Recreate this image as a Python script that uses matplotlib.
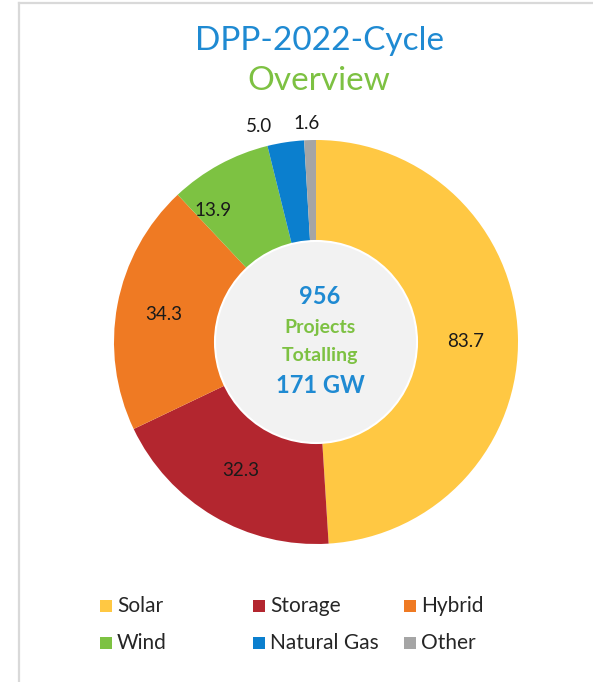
import numpy as np
import matplotlib
matplotlib.use("Agg")
import matplotlib.pyplot as plt
from matplotlib.patches import Circle, Rectangle
from matplotlib.lines import Line2D

# data
categories = ["Solar", "Storage", "Hybrid", "Wind", "Natural Gas", "Other"]
capacity_gw = [83.7, 32.3, 34.3, 13.9, 5.0, 1.6]
colors = ["#FFC843", "#B3262F", "#EF7A23", "#7DC242", "#0B7FCE", "#A5A5A5"]
n_projects = 956
total_gw = 171

plt.rcParams["font.family"] = ["Lato", "DejaVu Sans"]

blue = "#1F8AD2"
green = "#7DC142"

fig = plt.figure(figsize=(5.93, 6.82), dpi=100)

# light frame at top and left (image is cropped from a slide)
fig.add_artist(Line2D([19 / 593, 19 / 593], [0, 1 - 3 / 682], transform=fig.transFigure,
                      color="#d9d9d9", lw=1.6))
fig.add_artist(Line2D([19 / 593, 1], [1 - 3 / 682, 1 - 3 / 682], transform=fig.transFigure,
                      color="#d9d9d9", lw=1.6))

# title
fig.text(319 / 593, 1 - 41 / 682, "DPP-2022-Cycle", ha="center", va="center",
         fontsize=24, color=blue)
fig.text(319 / 593, 1 - 81 / 682, "Overview", ha="center", va="center",
         fontsize=24, color=green)

# donut
cx, cy, r = 316, 342, 202
ax = fig.add_axes([(cx - r) / 593, (682 - cy - r) / 682, 2 * r / 593, 2 * r / 682])
wedges, _ = ax.pie(capacity_gw, colors=colors, startangle=90, counterclock=False,
                   radius=1.0, wedgeprops=dict(width=0.5, linewidth=0))
ax.set_xlim(-1, 1)
ax.set_ylim(-1, 1)
ax.set_aspect("auto")
ax.axis("off")

ax.add_patch(Circle((0, 0), 0.5, facecolor="#F2F2F2", edgecolor="white", lw=1.5, zorder=3))

total = sum(capacity_gw)
# small pixel nudges, as the original placed a few labels off the wedge centre
label_nudge = {0: (0, -4), 2: (-5, 0), 3: (-32, 0), 4: (-24, 0), 5: (-3, 0)}
for i, (w, v) in enumerate(zip(wedges, capacity_gw)):
    ang = np.deg2rad((w.theta1 + w.theta2) / 2)
    rr = 0.74 if v / total > 0.05 else 1.08
    ax.annotate(f"{v:.1f}", (rr * np.cos(ang), rr * np.sin(ang)),
                xytext=label_nudge.get(i, (0, 0)), textcoords="offset pixels",
                ha="center", va="center", fontsize=13.5, color="#1a1a1a",
                annotation_clip=False, zorder=4)

# center text
ax.text(0.02, 0.225, f"{n_projects}", ha="center", va="center", fontsize=17,
        fontweight="bold", color=blue, zorder=4)
ax.text(0.02, 0.07, "Projects", ha="center", va="center", fontsize=14,
        fontweight="bold", color=green, zorder=4)
ax.text(0.02, -0.065, "Totalling", ha="center", va="center", fontsize=14,
        fontweight="bold", color=green, zorder=4)
ax.text(0.02, -0.215, f"{total_gw} GW", ha="center", va="center", fontsize=17,
        fontweight="bold", color=blue, zorder=4)

# legend (3 columns, row-major like the original)
col_x = [100, 253, 404]
row_y = [606, 643]
sq = 12
for i, (name, c) in enumerate(zip(categories, colors)):
    x = col_x[i % 3]
    y = row_y[i // 3]
    fig.add_artist(Rectangle((x / 593, (682 - y - sq / 2) / 682), sq / 593, sq / 682,
                             transform=fig.transFigure, facecolor=c, edgecolor="none"))
    fig.text((x + sq + 5) / 593, (682 - y) / 682, name, ha="left", va="center",
             fontsize=15, color="#262626")

fig.savefig("out.png", dpi=100, facecolor="white")
